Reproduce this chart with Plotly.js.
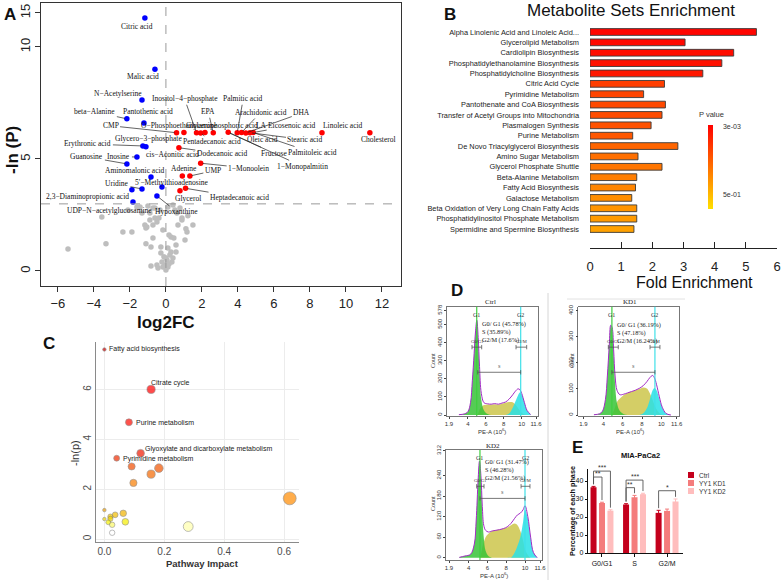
<!DOCTYPE html>
<html>
<head>
<meta charset="utf-8">
<script src="https://cdn.plot.ly/plotly-3.0.1.min.js"></script>
<style>
html,body{margin:0;padding:0;background:#fff;}
#chart{width:783px;height:580px;}
</style>
</head>
<body>
<div id="chart"></div>
<script>
// ================= DATA =================
// ---- Panel A: volcano plot (log2FC vs -ln P) ----
const grayX = [-5.44,-3.33,-3.56,-2.39,-1.89,-2.11,-1.44,-1.00,-0.61,-0.33, 0.11,0.39,0.78,0.50,0.61,0.89,1.50,1.17,1.06,0.56, 0.56,0.39,0.28,0.44,0.17,-0.89,-0.72,-0.61,-0.39,-0.50, -0.89,-1.17,-1.11,-0.72,-1.06,-0.72,-1.11,-0.83,-0.28,-0.28, -0.11,0.11,0.06,-0.06,0.11,0.33,0.22,0.00,-0.17,-0.50, -0.83,-0.44,0.28,-0.22,0.00,0.17,0.89,1.11,1.22,0.67, -0.17,-1.33,-1.61];
const grayY = [0.98,1.21,2.41,1.74,1.74,2.72,2.86,2.90,2.81,2.72, 2.86,2.95,2.81,2.72,2.59,2.37,2.05,1.74,1.38,1.16, 0.85,0.58,1.52,1.47,1.61,2.59,2.81,2.37,2.37,2.19, 2.28,2.05,1.92,2.05,1.96,1.47,1.21,1.07,1.07,0.80, 0.63,1.03,0.49,0.27,0.18,0.40,0.71,0.04,0.18,0.27, 0.22,0.13,0.85,0.40,0.58,0.31,2.28,1.88,2.46,2.05, 1.83,2.59,2.86];
const downNames = ['Citric acid','Malic acid','N−Acetylserine','beta−Alanine','Pantothenic acid','Erythronic acid','cis−Aconitic acid','Inosine','Guanosine','Aminomalonic acid','5′−Methylthioadenosine','Uridine','','Hypoxanthine','2,3−Diaminopropionic acid'];
const downX = [-1.17,-0.61,-1.33,-2.17,-1.22,-1.28,-1.11,-1.61,-2.17,-0.83,-0.22,-1.33,-1.89,-0.50,-1.83];
const downY = [14.25,9.00,7.63,6.79,6.61,5.58,5.54,5.09,4.78,4.20,3.75,3.66,3.62,3.35,3.08];
const upNames = ['CMP','O−Phosphoethanolamine','Inositol−4−phosphate','Pentadecanoic acid','Glycerophosphoric acid','EPA','Fructose','Palmitic acid','Arachidonic acid','DHA','Stearic acid','Palmitoleic acid','Linoleic acid','Cholesterol','Dodecanoic acid','1−Monoolein','Adenine','UMP','Glycerol','Heptadecanoic acid'];
const upX = [0.59,1.00,1.70,1.93,2.17,2.63,3.46,3.96,4.20,4.44,4.67,4.85,8.67,11.33,0.72,1.93,0.91,1.33,0.78,1.09];
const upY = [6.17,6.18,6.17,6.16,6.18,6.17,6.19,6.17,6.18,6.16,6.17,6.18,6.17,6.17,5.50,4.81,4.24,4.24,3.58,3.69];
const volcanoTicksX = [-6,-4,-2,0,2,4,6,8,10,12];
const volcanoTicksY = [0,5,10,15];

// ---- Panel B: metabolite set enrichment ----
const setNames = ['Alpha Linolenic Acid and Linoleic Acid...','Glycerolipid Metabolism','Cardiolipin Biosynthesis','Phosphatidylethanolamine Biosynthesis','Phosphatidylcholine Biosynthesis','Citric Acid Cycle','Pyrimidine Metabolism','Pantothenate and CoA Biosynthesis','Transfer of Acetyl Groups into Mitochondria','Plasmalogen Synthesis','Purine Metabolism','De Novo Triacylglycerol Biosynthesis','Amino Sugar Metabolism','Glycerol Phosphate Shuttle','Beta-Alanine Metabolism','Fatty Acid Biosynthesis','Galactose Metabolism','Beta Oxidation of Very Long Chain Fatty Acids','Phosphatidylinositol Phosphate Metabolism','Spermidine and Spermine Biosynthesis'];
const foldEnrich = [5.34,3.05,4.61,4.23,3.62,2.39,1.72,2.42,2.31,1.96,1.37,2.82,1.54,2.31,1.50,1.46,1.34,1.50,1.50,1.41];
const setPvals = [0.003,0.0032,0.0036,0.0042,0.005,0.015,0.018,0.02,0.022,0.026,0.03,0.045,0.06,0.07,0.09,0.11,0.14,0.17,0.2,0.24];
const pLegendTicks = [0.003,0.5];
const pLegendText = ['3e-03','5e-01'];

// ---- Panel C: pathway impact ----
const pathNames = ['Fatty acid biosynthesis','Citrate cycle','Purine metabolism','Glyoxylate and dicarboxylate metabolism','Pyrimidine metabolism','','','','','','','','','','','','','','','',''];
const pathImpact = [0.0,0.156,0.082,0.121,0.041,0.091,0.182,0.156,0.097,0.619,0.0,0.063,0.036,0.02,0.02,0.0,0.013,0.07,0.026,0.28,0.026];
const pathLnP = [7.6,6.0,4.68,3.44,3.24,2.91,2.84,2.6,2.25,1.63,1.16,1.03,0.97,0.9,0.81,0.8,0.67,0.69,0.57,0.5,0.25];

// ---- Panel D: cell cycle histograms (PE-A 10^6 vs count) ----
const ctrlX   = [3.0,3.6,4.0,4.3,4.5,4.7,4.85,5.0,5.15,5.3, 5.5,5.8,6.2,6.6,7.0,7.4,7.8,8.2,8.6,9.0, 9.3,9.6,9.8,10.0,10.3,10.6,11.0];
const ctrlEnv = [2,6,18,70,190,340,460,525,430,270, 120,68,62,60,63,60,66,72,88,112, 132,145,140,120,70,25,3];
const ctrlG1  = [2,6,18,70,190,338,455,515,415,240, 85,25,5,0,0,0,0,0,0,0, 0,0,0,0,0,0,0];
const ctrlS   = [0,0,0,0,0,0,0,0,10,30, 45,55,58,58,60,58,63,68,72,70, 58,38,25,12,3,0,0];
const ctrlG2  = [0,0,0,0,0,0,0,0,0,0, 0,0,0,0,0,0,0,0,8,40, 75,110,125,115,70,25,3];
const kd1X    = [3.0,3.6,3.9,4.2,4.4,4.6,4.75,4.9,5.05,5.2, 5.4,5.7,6.1,6.5,6.9,7.3,7.7,8.1,8.5,8.8, 9.1,9.3,9.5,9.8,10.1,10.5,11.0];
const kd1Env  = [1,5,15,60,150,270,345,335,250,150, 95,78,80,85,90,95,102,112,128,143, 152,142,118,70,30,6,0];
const kd1G1   = [1,5,15,60,150,268,340,325,235,120, 45,15,3,0,0,0,0,0,0,0, 0,0,0,0,0,0,0];
const kd1S    = [0,0,0,0,0,0,0,5,15,30, 50,63,77,85,90,95,100,106,102,85, 58,38,22,8,0,0,0];
const kd1G2   = [0,0,0,0,0,0,0,0,0,0, 0,0,0,0,0,0,0,6,26,58, 95,104,96,62,28,6,0];
const kd2X    = [3.0,3.6,4.2,4.6,4.8,5.0,5.15,5.3,5.45,5.6, 5.8,6.1,6.5,6.9,7.3,7.7,8.1,8.5,8.9,9.2, 9.5,9.8,10.0,10.3,10.6,10.9,11.3];
const kd2Env  = [1,5,10,40,110,225,282,240,150,95, 80,75,78,80,82,85,90,100,115,125, 130,140,152,120,60,15,0];
const kd2G1   = [1,5,10,40,110,222,278,230,130,60, 20,5,0,0,0,0,0,0,0,0, 0,0,0,0,0,0,0];
const kd2S    = [0,0,0,0,0,0,0,10,30,45, 60,70,78,80,82,85,88,95,100,95, 78,50,25,8,0,0,0];
const kd2G2   = [0,0,0,0,0,0,0,0,0,0, 0,0,0,0,0,0,0,0,15,35, 60,105,140,115,58,15,0];
const histNames = ['Ctrl','KD1','KD2'];
const ctrlPhasePct = [45.78,35.89,17.6];
const kd1PhasePct  = [36.19,47.18,16.24];
const kd2PhasePct  = [31.47,46.28,21.56];
const gateG1 = [4.99,4.87,5.2];
const gateG2 = [9.89,9.34,10.0];
const gateG0G1 = [[4.46,5.54],[4.5,5.53],[4.85,5.63]];
const gateG2M  = [[9.37,10.56],[8.83,9.86],[9.58,10.53]];
const gateS    = [[5.1,9.89],[4.87,9.34],[5.2,10.0]];
const peTicks = [1.9,4,6,8,10,11.6];
const countTicks = [[0,100,200,300,400,500,578],[0,100,200,300,400],[0,60,120,180,240,312]];

// ---- Panel E: phase percentages ----
const phases = ['G0/G1','S','G2/M'];
const eGroups = ['Ctrl','YY1 KD1','YY1 KD2'];
const ctrlPct = [36.5,26.9,22.3];
const kd1Pct  = [27.8,31.0,23.4];
const kd2Pct  = [23.5,32.7,28.6];
const ctrlErr = [0.5,0.5,1.4];
const kd1Err  = [0.4,1.0,1.0];
const kd2Err  = [0.5,0.5,1.4];
// [phase index, group a, group b, label, bracket level]
const sigTests = [[0,0,1,'**',42.2],[0,0,2,'***',45.5],[1,0,1,'**',36.3],[1,0,2,'***',40.5],[2,0,2,'*',34.6]];

// ================= DRAWING =================
const W = 783, H = 580;
const fx = p => p / W, fy = p => 1 - p / H;
const SANS = 'Liberation Sans, Arial, sans-serif';
const SERIF = 'Liberation Serif, Times New Roman, serif';
const yCut = 10, yCutScale = 0.3036;            // broken y axis of the volcano plot
const tA = v => v <= yCut ? v : yCut + (v - yCut) * yCutScale;

const traces = [];
const ann = [];
const shapes = [];

// ---- Panel A ----
traces.push({type:'scatter',mode:'markers',x:grayX,y:grayY.map(tA),xaxis:'x',yaxis:'y',
  marker:{color:'#bebebe',size:5.5},hoverinfo:'skip'});
traces.push({type:'scatter',mode:'markers',x:downX,y:downY.map(tA),xaxis:'x',yaxis:'y',
  marker:{color:'#0000ff',size:5.5},hoverinfo:'skip'});
traces.push({type:'scatter',mode:'markers',x:upX,y:upY.map(tA),xaxis:'x',yaxis:'y',
  marker:{color:'#ff0000',size:5.5},hoverinfo:'skip'});

const aLabels = [ // [text, point, dx, dy, leader]
 ['Citric acid','Citric acid',-8,8,0],
 ['Malic acid','Malic acid',-12,7,0],
 ['N−Acetylserine','N−Acetylserine',-24,-7,0],
 ['beta−Alanine','beta−Alanine',-32,-7,1],
 ['Pantothenic acid','Pantothenic acid',4,-11,0],
 ['Erythronic acid','Erythronic acid',-55,-2,1],
 ['cis−Aconitic acid','cis−Aconitic acid',27,8,0],
 ['Inosine','Inosine',-18,0,1],
 ['Guanosine','Guanosine',-40,-7,1],
 ['Aminomalonic acid','Aminomalonic acid',-16,-6,0],
 ['Uridine','Uridine',-25,-5,1],
 ['5′−Methylthioadenosine','5′−Methylthioadenosine',10,-4,0],
 ['Hypoxanthine','Hypoxanthine',20,16,1],
 ['2,3−Diaminopropionic acid','2,3−Diaminopropionic acid',-45,-5,1],
 ['UDP−N−acetylglucosamine','2,3−Diaminopropionic acid',-23,9,0],
 ['CMP','CMP',-66,-7,1],
 ['O−Phosphoethanolamine','O−Phosphoethanolamine',-4,-7,0],
 ['Inositol−4−phosphate','Inositol−4−phosphate',-12,-34,1],
 ['Pentadecanoic acid','Pentadecanoic acid',11,9,1],
 ['Glycerophosphoric acid','Glycerophosphoric acid',17,-7,0],
 ['EPA','EPA',-5,-21,1],
 ['Fructose','Fructose',46,21,1],
 ['1−Monopalmitin','Fructose',74,34,1],
 ['Palmitic acid','Palmitic acid',6,-34,1],
 ['Arachidonic acid','Arachidonic acid',19,-20,1],
 ['Oleic acid','Arachidonic acid',21,7,0],
 ['DHA','DHA',56,-20,1],
 ['LA','Stearic acid',12,-7,0],
 ['Eicosenoic acid','Palmitoleic acid',39,-7,1],
 ['Stearic acid','Stearic acid',55,7,1],
 ['Palmitoleic acid','Palmitoleic acid',59,20,1],
 ['Linoleic acid','Linoleic acid',21,-7,0],
 ['Cholesterol','Cholesterol',9,7,0],
 ['Dodecanoic acid','Dodecanoic acid',43,6,1],
 ['Glycero−3−phosphate','Dodecanoic acid',-30,-9,0],
 ['1−Monoolein','1−Monoolein',48,5,1],
 ['Adenine','Adenine',2,-7,0],
 ['UMP','UMP',23,-5,1],
 ['Glycerol','Glycerol',8,8,0],
 ['Heptadecanoic acid','Heptadecanoic acid',54,9,1]
];
aLabels.forEach(([t,p,dx,dy,l])=>{
  let i = downNames.indexOf(p), x, y;
  if (i >= 0) { x = downX[i]; y = downY[i]; } else { i = upNames.indexOf(p); x = upX[i]; y = upY[i]; }
  ann.push({xref:'x',yref:'y',x:x,y:tA(y),ax:dx,ay:dy,text:t,showarrow:true,arrowhead:0,
    arrowwidth:0.7,arrowcolor:l?'#222':'rgba(0,0,0,0)',standoff:2,
    font:{family:SERIF,size:7.5,color:'#111'}});
});
shapes.push({type:'line',xref:'x',yref:'y domain',x0:0,x1:0,y0:0,y1:1,line:{color:'#9a9a9a',width:1,dash:'dash'}});
shapes.push({type:'line',xref:'x domain',yref:'y',x0:0,x1:1,y0:-Math.log(0.05),y1:-Math.log(0.05),line:{color:'#9a9a9a',width:1,dash:'dash'}});

// ---- Panel B ----
const cbMax = 2.588, cbMin = -0.157;
traces.push({type:'bar',orientation:'h',x:foldEnrich,y:setNames,xaxis:'x2',yaxis:'y2',width:0.65,
  marker:{color:setPvals.map(p=>-Math.log10(p)),colorscale:[[0,'#ffe000'],[1,'#ff0000']],cmin:cbMin,cmax:cbMax,
    line:{color:'#3a3a3a',width:0.9},showscale:true,
    colorbar:{x:fx(708),xanchor:'left',xpad:0,y:fy(167),yanchor:'middle',ypad:0,len:84/H,lenmode:'fraction',
      thickness:5,outlinewidth:0,ticks:'outside',ticklen:9,tickcolor:'rgba(0,0,0,0)',
      tickvals:pLegendTicks.map(p=>-Math.log10(p)),ticktext:pLegendText,tickfont:{size:7,color:'#333'}}},
  hoverinfo:'skip'});

// ---- Panel C ----
const cScale = [[0,'#ffffff'],[0.035,'#ffffff'],[0.062,'#ffffb0'],[0.084,'#f5f000'],[0.11,'#f0c800'],[0.145,'#f0a000'],
  [0.2,'#ff8c00'],[0.3,'#f77a00'],[0.36,'#f25000'],[0.40,'#f03000'],[0.43,'#f01800'],[0.6,'#ff0800'],[0.75,'#ff0000'],[1,'#bb0000']];
traces.push({type:'scatter',mode:'markers',x:pathImpact,y:pathLnP,xaxis:'x3',yaxis:'y3',
  marker:{size:pathImpact.map(v=>3.5+12*Math.sqrt(v)),color:pathLnP,colorscale:cScale,cmin:0,cmax:8,
    line:{color:'#666',width:0.6}},hoverinfo:'skip'});
const cLabelShift = [[3,0],[-2,6],[5,0],[2,4],[4,-1]];
pathNames.forEach((n,i)=>{
  if(!n) return;
  const s = cLabelShift[i];
  ann.push({xref:'x3',yref:'y3',x:pathImpact[i],y:pathLnP[i],text:n,showarrow:false,xanchor:'left',yanchor:'middle',
    xshift:s[0],yshift:s[1],font:{family:SANS,size:7,color:'#222'}});
});

// ---- Panel D ----
const hData = [[ctrlX,ctrlEnv,ctrlG1,ctrlS,ctrlG2,ctrlPhasePct],[kd1X,kd1Env,kd1G1,kd1S,kd1G2,kd1PhasePct],[kd2X,kd2Env,kd2G1,kd2S,kd2G2,kd2PhasePct]];
const hBox = [ // pixel frame [left,right,top,bottom], x range, y range
  {f:[446.7,538,306.7,416],xr:[1.64,11.82],yr:[-5.5,600],title:[490,302],cnt:[433,361],pe:[492,431],txt:0.897,lv:[0.63,0.40]},
  {f:[578.3,679,306.7,416],xr:[1.38,11.84],yr:[-3.8,416],title:[630,302],cnt:[572,361],pe:[630,431],txt:0.883,lv:[0.63,0.40]},
  {f:[446,541.7,450,560],xr:[1.58,11.78],yr:[-6.7,314.4],title:[493,446],cnt:[433,504],pe:[494,575],txt:0.947,lv:[0.67,0.56]}
];
const layoutAxes = {};
hData.forEach((d,k)=>{
  const n = k+4, xa='x'+n, ya='y'+n, b=hBox[k];
  const base = {xaxis:xa,yaxis:ya,mode:'lines',fill:'tozeroy',hoverinfo:'skip',line:{width:0,shape:'spline',smoothing:1}};
  traces.push(Object.assign({},base,{x:d[0],y:d[3],fillcolor:'rgba(205,198,75,0.85)'}));
  traces.push(Object.assign({},base,{x:d[0],y:d[2],fillcolor:'rgba(55,195,55,0.85)'}));
  traces.push(Object.assign({},base,{x:d[0],y:d[4],fillcolor:'rgba(40,225,230,0.85)'}));
  traces.push({type:'scatter',mode:'lines',x:d[0],y:d[1],xaxis:xa,yaxis:ya,hoverinfo:'skip',
    line:{color:'#a22cc4',width:1,shape:'spline',smoothing:1}});
  layoutAxes['xaxis'+n] = {domain:[fx(b.f[0]),fx(b.f[1])],range:b.xr,anchor:ya,tickvals:peTicks,ticks:'outside',ticklen:2,
    tickcolor:'#444',showline:true,mirror:true,linecolor:'#555',linewidth:0.8,showgrid:false,zeroline:false,
    tickfont:{size:6,color:'#333'}};
  layoutAxes['yaxis'+n] = {domain:[fy(b.f[3]),fy(b.f[2])],range:b.yr,anchor:xa,tickvals:countTicks[k],tickangle:-90,ticks:'outside',ticklen:2,
    tickcolor:'#444',showline:true,mirror:true,linecolor:'#555',linewidth:0.8,showgrid:false,zeroline:false,
    tickfont:{size:6,color:'#333'}};
  const yd = ya+' domain';
  shapes.push({type:'line',xref:xa,yref:yd,x0:gateG1[k],x1:gateG1[k],y0:0,y1:1,line:{color:'#3fcf3f',width:1.2}});
  shapes.push({type:'line',xref:xa,yref:yd,x0:gateG2[k],x1:gateG2[k],y0:0,y1:1,line:{color:'#3fe0e8',width:1.2}});
  const gates = [[gateG0G1[k],b.lv[0],'G0/G1'],[gateG2M[k],b.lv[0],'G2/M'],[gateS[k],b.lv[1],'S']];
  gates.forEach(([g,lv,lab])=>{
    shapes.push({type:'line',xref:xa,yref:yd,x0:g[0],x1:g[1],y0:lv,y1:lv,line:{color:'#555',width:0.8}});
    shapes.push({type:'line',xref:xa,yref:yd,x0:g[0],x1:g[0],y0:lv-0.02,y1:lv+0.02,line:{color:'#555',width:0.8}});
    shapes.push({type:'line',xref:xa,yref:yd,x0:g[1],x1:g[1],y0:lv-0.02,y1:lv+0.02,line:{color:'#555',width:0.8}});
    ann.push({xref:xa,yref:yd,x:(g[0]+g[1])/2,y:lv+0.01,xanchor:'center',yanchor:'bottom',text:lab,showarrow:false,
      font:{family:SERIF,size:4.5,color:'#333'}});
  });
  ann.push({xref:xa,yref:yd,x:gateG1[k],y:0.924,xanchor:'center',yanchor:'middle',text:'G1',showarrow:false,font:{family:SERIF,size:6,color:'#333'}});
  ann.push({xref:xa,yref:yd,x:gateG2[k],y:0.924,xanchor:'center',yanchor:'middle',text:'G2',showarrow:false,font:{family:SERIF,size:6,color:'#333'}});
  const p = d[5];
  ann.push({xref:xa,yref:yd,x:gateG1[k],xshift:3,xanchor:'left',y:b.txt,yanchor:'top',align:'left',showarrow:false,
    text:'G0/ G1 ('+p[0]+'%)<br>S ('+p[1]+'%)<br>G2/M ('+p[2]+'%)',font:{family:SERIF,size:6.3,color:'#222'}});
});

// ---- Panel E ----
const eColors = ['#c4001c','#f47c7c','#ffbdbd'];
const eVals = [ctrlPct,kd1Pct,kd2Pct], eErrs = [ctrlErr,kd1Err,kd2Err];
const eCenter = [-0.26,0,0.26], eWidth = 0.185;
eVals.forEach((v,g)=>{
  traces.push({type:'bar',x:phases,y:v,xaxis:'x7',yaxis:'y7',name:eGroups[g],offset:eCenter[g]-eWidth/2,width:eWidth,
    marker:{color:eColors[g],line:{width:0}},
    error_y:{type:'data',array:eErrs[g],visible:true,color:eColors[g],thickness:1,width:2},hoverinfo:'skip'});
});
sigTests.forEach(([c,a,b,lab,lv])=>{
  const xa = c+eCenter[a], xb = c+eCenter[b];
  const ya = eVals[a][c]+eErrs[a][c]+1.2, yb = eVals[b][c]+eErrs[b][c]+1.2;
  const ln = {color:'#555',width:0.9};
  shapes.push({type:'line',xref:'x7',yref:'y7',x0:xa,x1:xb,y0:lv,y1:lv,line:ln});
  shapes.push({type:'line',xref:'x7',yref:'y7',x0:xa,x1:xa,y0:ya,y1:lv,line:ln});
  shapes.push({type:'line',xref:'x7',yref:'y7',x0:xb,x1:xb,y0:yb,y1:lv,line:ln});
  ann.push({xref:'x7',yref:'y7',x:(xa+xb)/2,y:lv,xanchor:'center',yanchor:'bottom',yshift:-2,text:lab,showarrow:false,
    font:{family:SANS,size:7,color:'#333'}});
});

// ---- text in paper coordinates ----
const txt = (x,y,t,size,opts)=>ann.push(Object.assign({xref:'paper',yref:'paper',x:fx(x),y:fy(y),xanchor:'center',yanchor:'middle',
  text:t,showarrow:false,font:{family:SANS,size:size,color:'#111'}},opts||{}));
eGroups.forEach((g,i)=>{
  const cy = 475 + i*8;
  shapes.push({type:'rect',xref:'paper',yref:'paper',x0:fx(688),x1:fx(694),y0:fy(cy+3),y1:fy(cy-3),
    fillcolor:eColors[i],line:{width:0}});
  txt(697,cy,g,6.5,{xanchor:'left',font:{family:SANS,size:6.5,color:'#333'}});
});
hBox.forEach((b,k)=>{
  txt(b.title[0],b.title[1],histNames[k],7,{font:{family:SERIF,size:7,color:'#222'}});
  txt(b.cnt[0],b.cnt[1],'Count',6,{textangle:-90,font:{family:SERIF,size:6,color:'#333'}});
  txt(b.pe[0],b.pe[1],'PE-A (10<sup>6</sup>)',6,{font:{family:SANS,size:6,color:'#333'}});
});

// ---- separators ----
shapes.push({type:'line',xref:'paper',yref:'paper',x0:fx(548),x1:fx(548),y0:fy(293),y1:fy(580),line:{color:'#d6d6d6',width:1}});
shapes.push({type:'line',xref:'paper',yref:'paper',x0:fx(567),x1:fx(685),y0:fy(299),y1:fy(299),line:{color:'#e2e2e2',width:1}});

txt(10,14,'<b>A</b>',17); txt(450,14,'<b>B</b>',17); txt(49,343,'<b>C</b>',17); txt(457,290,'<b>D</b>',17); txt(577,447,'<b>E</b>',17);
txt(13,150,'<b>-ln (P)</b>',17,{textangle:-90});
txt(166,323,'<b>log2FC</b>',17);
txt(631,10,'Metabolite Sets Enrichment',17);
txt(694,283,'Fold Enrichment',16);
txt(711,114,'P value',7.5,{font:{family:SANS,size:7.5,color:'#333'}});
txt(75,453,'-ln(p)',11,{textangle:-90,font:{family:SANS,size:11,color:'#333'}});
txt(202,563,'<b>Pathway Impact</b>',9.5,{font:{family:SANS,size:9.5,color:'#333'}});
txt(640,455,'<b>MIA-PaCa2</b>',7.5);
txt(572,511,'<b>Percentage of each phase</b>',7.3,{textangle:-90});

const layout = Object.assign({
  width:W,height:H,margin:{l:0,r:0,t:0,b:0},paper_bgcolor:'#ffffff',plot_bgcolor:'rgba(0,0,0,0)',
  showlegend:false,barmode:'overlay',font:{family:SANS,color:'#222'},
  xaxis:{domain:[fx(41),fx(401)],range:[-6.94,13.06],anchor:'y',tickvals:volcanoTicksX,ticks:'outside',ticklen:5,tickcolor:'#333',
    showline:true,mirror:true,linecolor:'#333',linewidth:1,showgrid:false,zeroline:false,tickfont:{size:13,color:'#222'}},
  yaxis:{domain:[fy(286),fy(3)],range:[-0.67,11.96],anchor:'x',tickvals:volcanoTicksY.map(tA),ticktext:volcanoTicksY.map(String),
    tickangle:-90,ticks:'outside',ticklen:5,tickcolor:'#333',showline:true,mirror:true,linecolor:'#333',linewidth:1,
    showgrid:false,zeroline:false,tickfont:{size:13,color:'#222'}},
  xaxis2:{domain:[fx(590),fx(777)],range:[0,6],anchor:'y2',tickvals:[0,1,2,3,4,5,6],ticks:'inside',ticklen:6,tickcolor:'#222',
    showline:true,linecolor:'#222',linewidth:1,showgrid:false,zeroline:false,ticklabelstandoff:6,tickfont:{size:13,color:'#222'}},
  yaxis2:{domain:[fy(248),fy(26.8)],type:'category',range:[20.83,-0.5],anchor:'x2',ticks:'',showline:false,showgrid:false,
    zeroline:false,ticklabelstandoff:10,tickfont:{size:7.4,color:'#222'}},
  xaxis3:{domain:[fx(96),fx(299)],range:[-0.028,0.65],anchor:'y3',tickvals:[0,0.2,0.4,0.6],ticktext:['0.0','0.2','0.4','0.6'],
    showgrid:true,gridcolor:'#ececec',showline:true,linecolor:'#8a8a8a',linewidth:1,ticks:'',zeroline:false,
    tickfont:{size:10,color:'#4d4d4d'}},
  yaxis3:{domain:[fy(542),fy(342)],range:[-0.12,7.9],anchor:'x3',tickvals:[0,2,4,6],tickangle:-90,showgrid:true,gridcolor:'#ececec',
    showline:true,linecolor:'#8a8a8a',linewidth:1,ticks:'',zeroline:false,tickfont:{size:10,color:'#4d4d4d'}},
  xaxis7:{domain:[fx(588),fx(683)],type:'category',range:[-0.43,2.49],anchor:'y7',showline:true,linecolor:'#111',linewidth:1.2,
    ticks:'outside',ticklen:3,tickcolor:'#111',tickfont:{size:7,color:'#111'},showgrid:false,zeroline:false},
  yaxis7:{domain:[fy(553),fy(469.3)],range:[0,46.5],anchor:'x7',tickvals:[0,10,20,30,40],showline:true,linecolor:'#111',
    linewidth:1.2,ticks:'outside',ticklen:2,tickcolor:'#111',tickfont:{size:7,color:'#111'},showgrid:false,zeroline:false},
  annotations:ann,shapes:shapes
}, layoutAxes);

Plotly.newPlot('chart',traces,layout,{staticPlot:true,displayModeBar:false});
</script>
</body>
</html>
